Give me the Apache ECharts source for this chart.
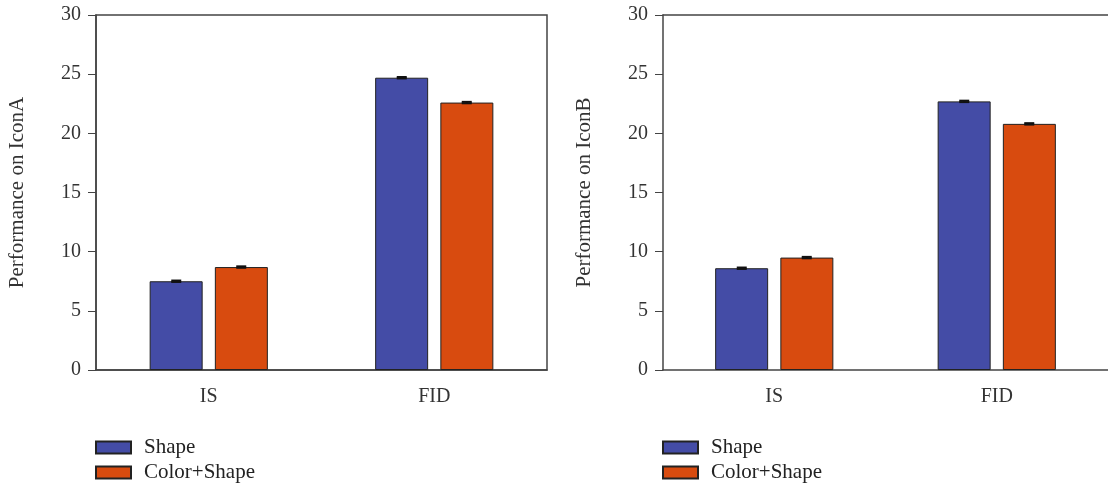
<!DOCTYPE html>
<html>
<head>
<meta charset="utf-8">
<script src="https://cdn.jsdelivr.net/npm/echarts@6/dist/echarts.min.js"></script>
<style>
  html, body { margin: 0; padding: 0; background: #fff; }
  #main { width: 1108px; height: 488px; }
</style>
</head>
<body>
<div id="main"></div>
<script>
// data
const categories = ['IS', 'FID'];
const seriesNames = ['Shape', 'Color+Shape'];
const iconA_shape = [7.5, 24.7];
const iconA_colorShape = [8.7, 22.6];
const iconB_shape = [8.6, 22.7];
const iconB_colorShape = [9.5, 20.8];
const errA_shape = [0.06, 0.06];
const errA_colorShape = [0.06, 0.06];
const errB_shape = [0.06, 0.06];
const errB_colorShape = [0.06, 0.06];

const serif = '"Liberation Serif", "DejaVu Serif", serif';
const axisColor = '#444';
const colors = ['#444ca6', '#d84b0f'];
const BAR_W = 53;
const OFFSET = 32.5;

const chart = echarts.init(document.getElementById('main'));

function errBar(gridIdx, values, errs, side) {
  return {
    type: 'custom',
    xAxisIndex: gridIdx,
    yAxisIndex: gridIdx,
    z: 5,
    silent: true,
    data: values.map((v, i) => [i, v, errs[i]]),
    renderItem: function (params, api) {
      const i = api.value(0);
      const v = api.value(1);
      const e = api.value(2);
      const lo = api.coord([i, v - e]);
      const hi = api.coord([i, v + e]);
      const x = lo[0] + side * OFFSET;
      return {
        type: 'group',
        children: [
          {type: 'line', shape: {x1: x, y1: lo[1], x2: x, y2: hi[1]}, style: {stroke: '#111', lineWidth: 2}},
          {type: 'line', shape: {x1: x - 5, y1: hi[1], x2: x + 5, y2: hi[1]}, style: {stroke: '#111', lineWidth: 2}},
          {type: 'line', shape: {x1: x - 5, y1: lo[1], x2: x + 5, y2: lo[1]}, style: {stroke: '#111', lineWidth: 2}}
        ]
      };
    }
  };
}

function barSeries(gridIdx, name, values, color) {
  return {
    type: 'bar',
    name: name,
    xAxisIndex: gridIdx,
    yAxisIndex: gridIdx,
    data: values,
    barWidth: BAR_W,
    barGap: '23%',
    itemStyle: {color: color, borderColor: '#222', borderWidth: 1},
    emphasis: {disabled: true}
  };
}

function xAxisFor(gridIdx) {
  return {
    type: 'category',
    gridIndex: gridIdx,
    data: categories,
    axisLine: {lineStyle: {color: axisColor, width: 1.5}},
    axisTick: {alignWithLabel: true, length: 6, lineStyle: {color: axisColor}},
    axisLabel: {color: '#333', fontFamily: serif, fontSize: 20, margin: 17}
  };
}

// top frame line only (right panel runs past the page edge, so no right border)
function topFrame(gridIdx) {
  return {
    type: 'category',
    gridIndex: gridIdx,
    position: 'top',
    data: categories,
    axisLine: {lineStyle: {color: axisColor, width: 1.5}},
    axisTick: {show: false},
    axisLabel: {show: false}
  };
}

function yAxisFor(gridIdx, name) {
  return {
    type: 'value',
    gridIndex: gridIdx,
    min: 0,
    max: 30,
    interval: 5,
    name: name,
    nameLocation: 'middle',
    nameGap: 68,
    nameTextStyle: {color: '#333', fontFamily: serif, fontSize: 21},
    axisLine: {show: true, lineStyle: {color: axisColor, width: 1.5}},
    axisTick: {show: true, length: 8, lineStyle: {color: axisColor}},
    axisLabel: {color: '#333', fontFamily: serif, fontSize: 20, margin: 15},
    splitLine: {show: false}
  };
}

function legendFor(left) {
  return {
    data: seriesNames,
    orient: 'vertical',
    left: left,
    top: 437,
    padding: 0,
    itemWidth: 35,
    itemHeight: 12,
    itemGap: 4,
    icon: 'rect',
    textStyle: {color: '#222', fontFamily: serif, fontSize: 21, padding: [0, 0, 0, 8]},
    selectedMode: false
  };
}

const option = {
  animation: false,
  grid: [
    {left: 96, top: 15, width: 451, height: 355, show: true, borderColor: axisColor, borderWidth: 1.5, backgroundColor: 'transparent'},
    {left: 663, top: 15, right: -6, height: 355}
  ],
  legend: [legendFor(95), legendFor(662)],
  xAxis: [xAxisFor(0), xAxisFor(1), topFrame(1)],
  yAxis: [yAxisFor(0, 'Performance on IconA'), yAxisFor(1, 'Performance on IconB')],
  series: [
    barSeries(0, seriesNames[0], iconA_shape, colors[0]),
    barSeries(0, seriesNames[1], iconA_colorShape, colors[1]),
    barSeries(1, seriesNames[0], iconB_shape, colors[0]),
    barSeries(1, seriesNames[1], iconB_colorShape, colors[1]),
    errBar(0, iconA_shape, errA_shape, -1),
    errBar(0, iconA_colorShape, errA_colorShape, 1),
    errBar(1, iconB_shape, errB_shape, -1),
    errBar(1, iconB_colorShape, errB_colorShape, 1)
  ]
};

chart.setOption(option);
</script>
</body>
</html>
